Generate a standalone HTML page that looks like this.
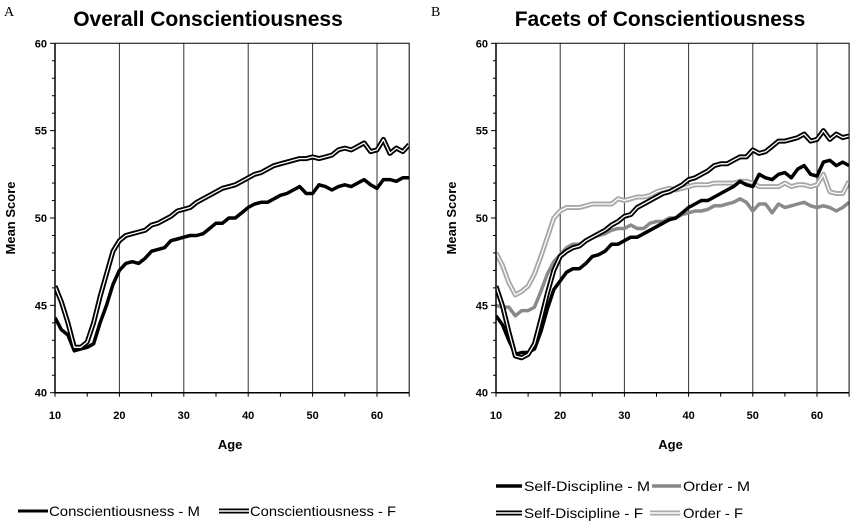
<!DOCTYPE html>
<html><head><meta charset="utf-8">
<style>
html,body{margin:0;padding:0;background:#fff;}
svg{display:block;font-family:"Liberation Sans",sans-serif;}
.tick{font-size:11px;font-weight:bold;}
.leg{font-family:"Liberation Sans Narrow","Liberation Sans",sans-serif;font-size:14px;}
</style></head>
<body>
<svg id="chart" width="850" height="523" viewBox="0 0 850 523" xmlns="http://www.w3.org/2000/svg">
<text x="4" y="16" font-family="Liberation Serif,serif" font-size="14">A</text>
<text x="208" y="26" text-anchor="middle" font-size="21" font-weight="bold">Overall Conscientiousness</text>
<text x="431" y="16" font-family="Liberation Serif,serif" font-size="14">B</text>
<text x="660" y="26" text-anchor="middle" font-size="21" font-weight="bold">Facets of Conscientiousness</text>
<g id="pa"></g>
<g id="pb"></g>
<g>
<line x1="18" y1="511" x2="48" y2="511" stroke="#000" stroke-width="3"/>
<text x="49" y="516" class="leg" textLength="151" lengthAdjust="spacingAndGlyphs">Conscientiousness - M</text>
<line x1="219" y1="511" x2="249" y2="511" stroke="#000" stroke-width="5"/>
<line x1="219" y1="511" x2="249" y2="511" stroke="#fff" stroke-width="1.5"/>
<text x="250" y="516" class="leg" textLength="146" lengthAdjust="spacingAndGlyphs">Conscientiousness - F</text>
</g>
<g>
<line x1="496" y1="486" x2="522" y2="486" stroke="#000" stroke-width="3.5"/>
<text x="524" y="491" class="leg" textLength="126" lengthAdjust="spacingAndGlyphs">Self-Discipline - M</text>
<line x1="652" y1="486" x2="681" y2="486" stroke="#888" stroke-width="3.5"/>
<text x="683" y="491" class="leg" textLength="67" lengthAdjust="spacingAndGlyphs">Order - M</text>
<line x1="496" y1="513" x2="522" y2="513" stroke="#000" stroke-width="5"/>
<line x1="496" y1="513" x2="522" y2="513" stroke="#fff" stroke-width="1.5"/>
<text x="524" y="518" class="leg" textLength="119" lengthAdjust="spacingAndGlyphs">Self-Discipline - F</text>
<line x1="650" y1="513" x2="680" y2="513" stroke="#aaa" stroke-width="5"/>
<line x1="650" y1="513" x2="680" y2="513" stroke="#fff" stroke-width="1.5"/>
<text x="683" y="518" class="leg" textLength="60" lengthAdjust="spacingAndGlyphs">Order - F</text>
</g>
</svg>
<script>
const ages = [];
for (let a = 10; a <= 65; a++) ages.push(a);
const yTicks = [40, 45, 50, 55, 60];
const xTicks = [10, 20, 30, 40, 50, 60];
const conscM = [44.3,43.6,43.3,42.4,42.5,42.6,42.8,44,45,46.2,47,47.4,47.5,47.4,47.7,48.1,48.2,48.3,48.7,48.8,48.9,49,49,49.1,49.4,49.7,49.7,50,50,50.3,50.6,50.8,50.9,50.9,51.1,51.3,51.4,51.6,51.8,51.4,51.4,51.9,51.8,51.6,51.8,51.9,51.8,52,52.2,51.9,51.7,52.2,52.2,52.1,52.3,52.3];
const conscF = [46.1,45.2,44,42.6,42.6,42.9,44,45.5,46.8,48.1,48.7,49,49.1,49.2,49.3,49.6,49.7,49.9,50.1,50.4,50.5,50.6,50.9,51.1,51.3,51.5,51.7,51.8,51.9,52.1,52.3,52.5,52.6,52.8,53,53.1,53.2,53.3,53.4,53.4,53.5,53.4,53.5,53.6,53.9,54,53.9,54.1,54.3,53.8,53.9,54.5,53.7,54,53.8,54.2];
const sdM = [44.4,43.9,43,42.2,42.3,42.3,42.5,43.5,44.8,45.9,46.4,46.9,47.1,47.1,47.4,47.8,47.9,48.1,48.5,48.5,48.7,48.9,48.9,49.1,49.3,49.5,49.7,49.9,50,50.3,50.6,50.8,51,51,51.2,51.4,51.6,51.8,52.1,51.9,51.8,52.5,52.3,52.2,52.5,52.6,52.3,52.8,53,52.5,52.4,53.2,53.3,53,53.2,53];
const sdF = [46.1,45,43.5,42.1,42,42.2,42.8,44.2,45.7,47,47.8,48.1,48.3,48.4,48.7,48.9,49.1,49.3,49.6,49.8,50.1,50.2,50.6,50.8,51,51.2,51.4,51.5,51.7,51.9,52.2,52.3,52.5,52.7,53,53.1,53.1,53.3,53.5,53.5,53.9,53.7,53.8,54.1,54.4,54.4,54.5,54.6,54.8,54.4,54.5,55,54.5,54.8,54.6,54.7];
const orderM = [45,44.9,44.9,44.4,44.7,44.7,44.9,45.8,46.8,47.5,47.9,48.3,48.5,48.5,48.7,48.9,49,49.1,49.3,49.4,49.4,49.6,49.4,49.4,49.7,49.8,49.8,50,50,50.2,50.3,50.4,50.4,50.5,50.7,50.7,50.8,50.9,51.1,50.9,50.4,50.8,50.8,50.3,50.8,50.6,50.7,50.8,50.9,50.7,50.6,50.7,50.6,50.4,50.6,50.9];
const orderF = [48,47.3,46.3,45.6,45.8,46.1,46.8,47.8,48.9,50,50.4,50.6,50.6,50.6,50.7,50.8,50.8,50.8,50.8,51.1,51,51.1,51.2,51.2,51.3,51.5,51.6,51.7,51.6,51.7,51.8,51.9,51.9,51.9,52,52,52,52,52.1,52.1,52,51.8,51.8,51.8,51.8,52,51.8,51.9,51.9,51.8,51.9,52.5,51.5,51.4,51.4,52.1];

const NS = 'http://www.w3.org/2000/svg';
function mk(tag, attrs, parent) {
  const e = document.createElementNS(NS, tag);
  for (const k in attrs) e.setAttribute(k, attrs[k]);
  parent.appendChild(e);
  return e;
}
function panel(g, x0, x60, series) {
  const y0 = 43.3, y1 = 392.7;
  const xs = v => x0 + (v - 10) * (x60 - x0) / 50;
  const ys = v => y1 - (v - 40) * (y1 - y0) / 20;
  const xr = xs(65);
  xTicks.slice(1).forEach(t => {
    const l = mk('line', {x1: xs(t), x2: xs(t), y1: y0, y2: y1, stroke: '#333', 'stroke-width': 1}, g);
    
    
  });
  for (let v = 40; v <= 60; v++) {
    const l = mk('line', {x1: x0 - (v % 5 === 0 ? 5 : 3), x2: x0, y1: ys(v), y2: ys(v), stroke: '#000', 'stroke-width': 1}, g);
    
    
  }
  for (let v = 10; v <= 65; v += 5) {
    const l = mk('line', {x1: xs(v), x2: xs(v), y1: y1, y2: y1 + 4, stroke: '#000', 'stroke-width': 1}, g);
    
    
  }
  yTicks.forEach(t => {
    const tx = mk('text', {x: x0 - 8, y: ys(t) + 4, 'text-anchor': 'end', class: 'tick'}, g);
    tx.textContent = t;
    
    
  });
  xTicks.forEach(t => {
    const tx = mk('text', {x: xs(t), y: 419, 'text-anchor': 'middle', class: 'tick'}, g);
    tx.textContent = t;
    
    
  });
  const yt = mk('text', {x: 0, y: 0, 'text-anchor': 'middle', 'font-size': 13, 'font-weight': 'bold', transform: `translate(${x0 - 40},${(y0 + y1) / 2}) rotate(-90)`}, g);
  yt.textContent = 'Mean Score';
  
  
  const xt = mk('text', {x: (x0 + xr) / 2 - 2, y: 449, 'text-anchor': 'middle', 'font-size': 13, 'font-weight': 'bold'}, g);
  xt.textContent = 'Age';
  
  
  const cp = 'clip' + Math.round(x0);
  const c = mk('clipPath', {id: cp}, g);
  mk('rect', {x: x0, y: y0 - 5, width: xr - x0, height: y1 - y0 + 10}, c);
  const sg = mk('g', {'clip-path': `url(#${cp})`}, g);
  series.forEach(s => {
    const pts = s.data.map((v, i) => xs(ages[i]).toFixed(1) + ',' + ys(v).toFixed(1)).join(' ');
    const p = mk('polyline', {points: pts, fill: 'none', stroke: s.color, 'stroke-width': s.w, 'stroke-linejoin': 'round'}, sg);
    
    
    if (s.dbl) mk('polyline', {points: pts, fill: 'none', stroke: '#fff', 'stroke-width': 1.3, 'stroke-linejoin': 'round'}, sg);
  });
  const fr = mk('polyline', {points: `${x0},${y0} ${x0},${y1} ${xr},${y1}`, fill: 'none', stroke: '#000', 'stroke-width': 1.5}, g);
  
  
  const tp = mk('polyline', {points: `${x0},${y0} ${xr},${y0} ${xr},${y1}`, fill: 'none', stroke: '#000', 'stroke-width': 1}, g);
  
  
}
panel(document.getElementById('pa'), 55, 377, [
  {name: 'line-conscientiousness-m', data: conscM, color: '#000', w: 3.5},
  {name: 'line-conscientiousness-f', data: conscF, color: '#000', w: 5, dbl: true}
]);
panel(document.getElementById('pb'), 496, 817, [
  {name: 'line-order-f', data: orderF, color: '#a8a8a8', w: 5, dbl: true},
  {name: 'line-order-m', data: orderM, color: '#8a8a8a', w: 3.5},
  {name: 'line-self-discipline-m', data: sdM, color: '#000', w: 3.5},
  {name: 'line-self-discipline-f', data: sdF, color: '#000', w: 5, dbl: true}
]);
</script>
</body></html>
